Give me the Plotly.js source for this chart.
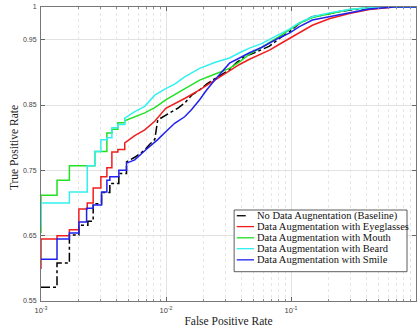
<!DOCTYPE html>
<html>
<head>
<meta charset="utf-8">
<script src="https://cdn.plot.ly/plotly-3.0.1.min.js"></script>
<style>html,body{margin:0;padding:0;background:#fff;}#chart{width:420px;height:335px;}</style>
</head>
<body>
<div id="chart"></div>
<script>
// ---- data (FPR on log axis, TPR); staircase corners kept explicitly ----
const seriesNames = [
  "No Data Augnentation (Baseline)",
  "Data Augmentation with Eyeglasses",
  "Data Augmentation with Mouth",
  "Data Augmentation with Beard",
  "Data Augmentation with Smile"
];

const baselineFpr = [0.001, 0.001343, 0.001343, 0.001687, 0.001687, 0.002009, 0.002009, 0.002371, 0.002371, 0.002615, 0.002615, 0.003051, 0.003051, 0.003554, 0.003554, 0.004194, 0.004194, 0.004831, 0.004831, 0.005623, 0.006761, 0.007413, 0.008128, 0.008587, 0.0107, 0.0124, 0.0141, 0.01604, 0.01858, 0.02113, 0.02449, 0.02782, 0.03221, 0.03665, 0.04246, 0.05102, 0.05805, 0.0673, 0.08082, 0.09705, 0.1167, 0.1482, 0.1848, 0.2433, 0.3206, 0.4227, 0.6099, 1.0];
const baselineTpr = [0.571, 0.571, 0.608, 0.608, 0.651, 0.651, 0.666, 0.666, 0.672, 0.672, 0.699, 0.699, 0.716, 0.716, 0.730, 0.730, 0.745, 0.745, 0.763, 0.770, 0.781, 0.790, 0.797, 0.827, 0.838, 0.845, 0.853, 0.865, 0.873, 0.882, 0.890, 0.897, 0.904, 0.915, 0.924, 0.930, 0.935, 0.940, 0.952, 0.962, 0.975, 0.985, 0.988, 0.993, 0.996, 0.998, 1.0, 1.0];

const eyeglassesFpr = [0.0005, 0.001, 0.001, 0.001343, 0.001343, 0.001687, 0.001687, 0.002009, 0.002009, 0.002344, 0.002344, 0.002615, 0.002615, 0.003013, 0.003013, 0.003365, 0.003365, 0.00369, 0.00369, 0.004121, 0.004121, 0.004677, 0.004677, 0.005623, 0.006761, 0.008128, 0.009954, 0.01173, 0.0141, 0.01858, 0.02449, 0.03221, 0.03875, 0.04656, 0.05805, 0.0673, 0.08082, 0.09705, 0.1167, 0.1482, 0.2023, 0.2924, 0.4227, 0.6683, 1.0];
const eyeglassesTpr = [0.600, 0.600, 0.645, 0.645, 0.650, 0.650, 0.659, 0.659, 0.691, 0.691, 0.700, 0.700, 0.723, 0.723, 0.740, 0.740, 0.754, 0.754, 0.778, 0.778, 0.782, 0.782, 0.792, 0.803, 0.812, 0.825, 0.845, 0.852, 0.860, 0.873, 0.888, 0.902, 0.912, 0.920, 0.928, 0.934, 0.943, 0.952, 0.960, 0.972, 0.982, 0.990, 0.996, 1.0, 1.0];

const mouthFpr = [0.0005, 0.001, 0.001, 0.001343, 0.001343, 0.001687, 0.001687, 0.002698, 0.002698, 0.003365, 0.003365, 0.00369, 0.00369, 0.004121, 0.004121, 0.004677, 0.004677, 0.005623, 0.006761, 0.008128, 0.009954, 0.01173, 0.0141, 0.01858, 0.02449, 0.03221, 0.03875, 0.04656, 0.05805, 0.0673, 0.08082, 0.09705, 0.1167, 0.1482, 0.2023, 0.2924, 0.4227, 0.5563, 1.0];
const mouthTpr = [0.655, 0.655, 0.712, 0.712, 0.735, 0.735, 0.757, 0.757, 0.779, 0.779, 0.807, 0.807, 0.813, 0.813, 0.823, 0.823, 0.826, 0.832, 0.838, 0.846, 0.858, 0.866, 0.875, 0.888, 0.897, 0.906, 0.916, 0.928, 0.938, 0.945, 0.955, 0.965, 0.975, 0.984, 0.990, 0.996, 0.999, 1.0, 1.0];

const beardFpr = [0.0005, 0.001, 0.001, 0.001687, 0.001687, 0.002344, 0.002344, 0.002698, 0.002698, 0.003013, 0.003013, 0.003365, 0.003365, 0.00369, 0.00369, 0.004121, 0.004121, 0.004677, 0.004677, 0.005623, 0.006761, 0.008128, 0.009954, 0.01173, 0.0141, 0.01858, 0.02449, 0.03221, 0.03875, 0.04656, 0.05805, 0.0673, 0.08082, 0.09705, 0.1167, 0.1482, 0.2023, 0.2924, 0.4227, 0.5563, 1.0];
const beardTpr = [0.665, 0.665, 0.700, 0.700, 0.717, 0.717, 0.757, 0.757, 0.779, 0.779, 0.797, 0.797, 0.800, 0.800, 0.815, 0.815, 0.820, 0.820, 0.830, 0.840, 0.848, 0.865, 0.875, 0.882, 0.893, 0.906, 0.915, 0.922, 0.930, 0.937, 0.944, 0.950, 0.958, 0.966, 0.976, 0.985, 0.991, 0.996, 0.999, 1.0, 1.0];

const smileFpr = [0.001, 0.001343, 0.001343, 0.001687, 0.001687, 0.002009, 0.002009, 0.002316, 0.002316, 0.002615, 0.002615, 0.003051, 0.003051, 0.003365, 0.003365, 0.003554, 0.003554, 0.004194, 0.004194, 0.004831, 0.004831, 0.005623, 0.006761, 0.007413, 0.008587, 0.009954, 0.01173, 0.0141, 0.01604, 0.01858, 0.02113, 0.02449, 0.02782, 0.03221, 0.03875, 0.04656, 0.05805, 0.0673, 0.08082, 0.09705, 0.1167, 0.1482, 0.2023, 0.2924, 0.4227, 0.6683, 1.0];
const smileTpr = [0.614, 0.614, 0.645, 0.645, 0.654, 0.654, 0.671, 0.671, 0.692, 0.692, 0.697, 0.697, 0.717, 0.717, 0.735, 0.735, 0.740, 0.740, 0.750, 0.750, 0.761, 0.766, 0.780, 0.786, 0.797, 0.809, 0.822, 0.832, 0.843, 0.858, 0.873, 0.888, 0.900, 0.914, 0.922, 0.930, 0.938, 0.945, 0.953, 0.960, 0.970, 0.980, 0.985, 0.992, 0.997, 1.0, 1.0];

const xTickVals = [0.001, 0.01, 0.1, 1];
const xTickText = ["10<sup>-3</sup>", "10<sup>-2</sup>", "10<sup>-1</sup>", "10<sup>0</sup>"];
const yTickVals = [0.55, 0.65, 0.75, 0.85, 0.95, 1];
const yTickText = ["0.55", "0.65", "0.75", "0.85", "0.95", "1"];
const xTitle = "False Positive Rate";
const yTitle = "True Positive Rate";

// ---- styling ----
const colors = ["#000000", "#f01e1e", "#22e022", "#33f0f0", "#2020f0"];
const dashes = ["dashdot", "solid", "solid", "solid", "solid"];
const xs = [baselineFpr, eyeglassesFpr, mouthFpr, beardFpr, smileFpr];
const ys = [baselineTpr, eyeglassesTpr, mouthTpr, beardTpr, smileTpr];
const serif = "Liberation Serif, Times New Roman, serif";

const traces = xs.map((x, i) => ({
  type: "scatter", mode: "lines", x: x, y: ys[i], name: seriesNames[i],
  line: {color: colors[i], width: 1.5, dash: dashes[i], shape: "linear"},
  showlegend: false
}));

// compact boxed legend (MATLAB-style)
const lg = {x0: 0.515, x1: 0.976, y0: 0.0997, y1: 0.3095, lineX0: 0.522, lineX1: 0.568, textX: 0.571, rowY: [0.290, 0.253, 0.215, 0.178, 0.140]};
const shapes = [{type: "rect", xref: "paper", yref: "paper", x0: lg.x0, x1: lg.x1, y0: lg.y0, y1: lg.y1,
  line: {color: "#333", width: 0.8}, fillcolor: "#ffffff", layer: "above"}];
const annotations = [];
seriesNames.forEach((n, i) => {
  shapes.push({type: "line", xref: "paper", yref: "paper", x0: lg.lineX0, x1: lg.lineX1, y0: lg.rowY[i], y1: lg.rowY[i],
    line: {color: colors[i], width: 1.3, dash: i === 0 ? "dash" : "solid"}, layer: "above"});
  annotations.push({xref: "paper", yref: "paper", x: lg.textX, y: lg.rowY[i], xanchor: "left", yanchor: "middle",
    text: n, showarrow: false, font: {family: serif, size: 10.5, color: "#111"}});
});
// y-axis title placed like MATLAB's ylabel
annotations.push({xref: "paper", yref: "paper", x: -0.072, y: 0.52, xanchor: "center", yanchor: "middle",
  text: yTitle, textangle: -90, showarrow: false, font: {family: serif, size: 11.5, color: "#222"}});

const layout = {
  width: 420, height: 335,
  margin: {l: 41, r: 4, t: 7, b: 34},
  paper_bgcolor: "#ffffff", plot_bgcolor: "#ffffff",
  showlegend: false,
  xaxis: {
    type: "log", range: [-3, 0],
    tickmode: "array", tickvals: xTickVals, ticktext: xTickText,
    ticks: "inside", ticklen: 4, tickcolor: "#666",
    showline: true, linecolor: "#777", linewidth: 1, mirror: "ticks",
    showgrid: true, gridcolor: "#e2e2e2", gridwidth: 1,
    minor: {dtick: "D1", ticks: "inside", ticklen: 2, tickcolor: "#888", showgrid: true, gridcolor: "#e6e6e6", griddash: "dot"},
    tickfont: {family: "Liberation Sans, Arial, sans-serif", size: 7.5, color: "#444"},
    ticklabelstandoff: 2,
    title: {text: xTitle, font: {family: serif, size: 11.5, color: "#222"}, standoff: 2},
    automargin: false, zeroline: false
  },
  yaxis: {
    range: [0.55, 1],
    tickmode: "array", tickvals: yTickVals, ticktext: yTickText,
    ticks: "inside", ticklen: 4, tickcolor: "#666",
    showline: true, linecolor: "#777", linewidth: 1, mirror: "ticks",
    showgrid: true, gridcolor: "#e2e2e2", gridwidth: 1,
    tickfont: {family: "Liberation Sans, Arial, sans-serif", size: 7, color: "#444"},
    ticklabelstandoff: 2,
    automargin: false, zeroline: false
  },
  shapes: shapes,
  annotations: annotations
};

Plotly.newPlot("chart", traces, layout, {displayModeBar: false, staticPlot: true});
</script>
</body>
</html>
